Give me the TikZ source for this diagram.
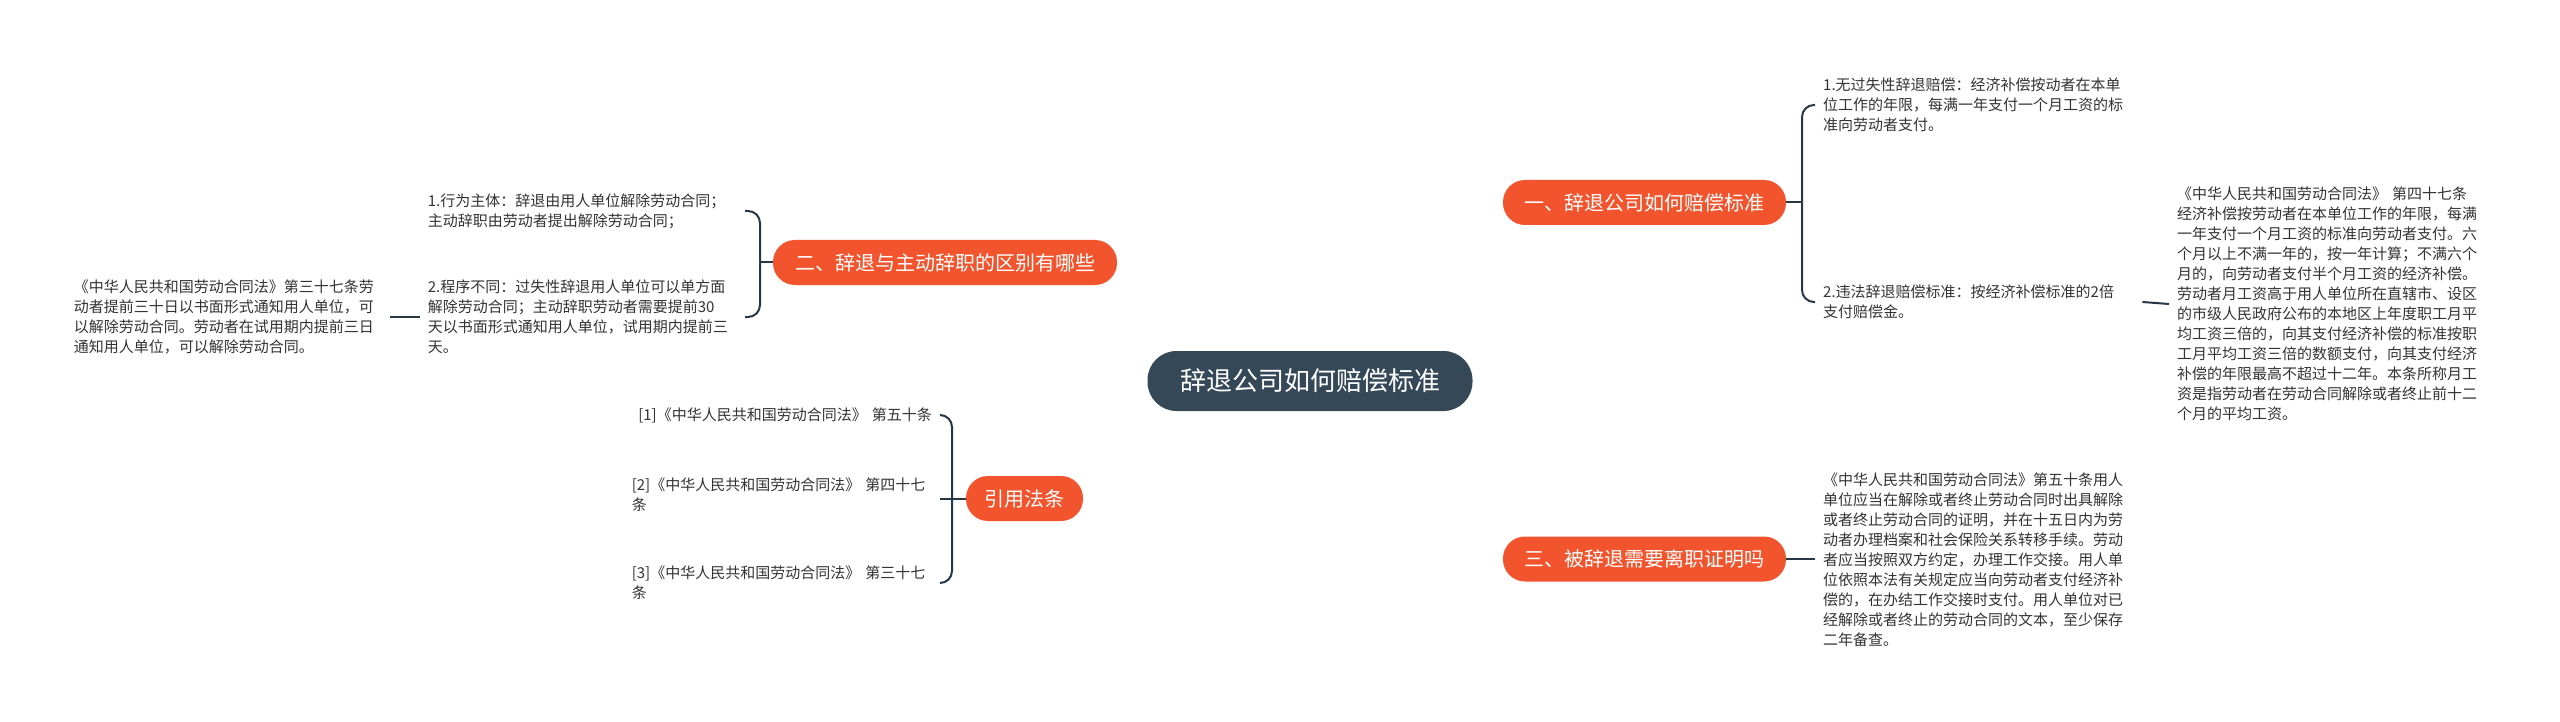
\documentclass[tikz,border=0pt]{standalone}
\usepackage{fontspec}
\setmainfont{Noto Sans CJK SC}
\usetikzlibrary{calc,backgrounds}
\definecolor{orng}{RGB}{242,84,45}
\definecolor{dark}{RGB}{53,72,88}
\definecolor{lnk}{RGB}{40,55,70}
\definecolor{txt}{RGB}{51,51,51}
\begin{document}
\begin{tikzpicture}[x=1pt,y=-1pt,
  root/.style={fill=dark,text=white,rounded corners=29pt,minimum height=60pt,minimum width=325pt,inner sep=0pt,font=\fontsize{26}{30}\selectfont},
  branch/.style={fill=orng,text=white,rounded corners=22pt,minimum height=45pt,inner sep=0pt,font=\fontsize{20}{24}\selectfont},
  leaf/.style={inner xsep=8pt,inner ysep=0pt,text=txt,align=left,font=\fontsize{15}{20}\selectfont},
  link/.style={draw=lnk,line width=2pt},
  brace/.style={link,rounded corners=12pt}]
\useasboundingbox[fill=white] (0,0) rectangle (2560,722);

% root and branches
\node[root] (ctr) at (1310,381) {辞退公司如何赔偿标准};
\node[branch,minimum width=283pt] (b1) at (1644.5,202.5) {一、辞退公司如何赔偿标准};
\node[branch,minimum width=344pt] (b2) at (945,262.5) {二、辞退与主动辞职的区别有哪些};
\node[branch,minimum width=283pt] (b3) at (1644.5,559) {三、被辞退需要离职证明吗};
\node[branch,minimum width=117pt] (b4) at (1024.5,498.5) {引用法条};

% leaves of branch 1
\node[leaf,text width=311pt,anchor=west] (l1a) at (1815,105) {1.无过失性辞退赔偿：经济补偿按动者在本单\\位工作的年限，每满一年支付一个月工资的标\\准向劳动者支付。};
\node[leaf,text width=311pt,anchor=west] (l1b) at (1815,302) {2.违法辞退赔偿标准：按经济补偿标准的2倍\\支付赔偿金。};
\node[leaf,text width=312pt,anchor=west] (l1c) at (2169,304) {《中华人民共和国劳动合同法》~第四十七条\\经济补偿按劳动者在本单位工作的年限，每满\\一年支付一个月工资的标准向劳动者支付。六\\个月以上不满一年的，按一年计算；不满六个\\月的，向劳动者支付半个月工资的经济补偿。\\劳动者月工资高于用人单位所在直辖市、设区\\的市级人民政府公布的本地区上年度职工月平\\均工资三倍的，向其支付经济补偿的标准按职\\工月平均工资三倍的数额支付，向其支付经济\\补偿的年限最高不超过十二年。本条所称月工\\资是指劳动者在劳动合同解除或者终止前十二\\个月的平均工资。};

% leaf of branch 3
\node[leaf,text width=312pt,anchor=west] (l3) at (1815,560) {《中华人民共和国劳动合同法》第五十条用人\\单位应当在解除或者终止劳动合同时出具解除\\或者终止劳动合同的证明，并在十五日内为劳\\动者办理档案和社会保险关系转移手续。劳动\\者应当按照双方约定，办理工作交接。用人单\\位依照本法有关规定应当向劳动者支付经济补\\偿的，在办结工作交接时支付。用人单位对已\\经解除或者终止的劳动合同的文本，至少保存\\二年备查。};

% leaves of branch 2
\node[leaf,text width=309pt,anchor=east] (l2a) at (745,211) {1.行为主体：辞退由用人单位解除劳动合同；\\主动辞职由劳动者提出解除劳动合同；};
\node[leaf,text width=309pt,anchor=east] (l2b) at (745,317) {2.程序不同：过失性辞退用人单位可以单方面\\解除劳动合同；主动辞职劳动者需要提前30\\天以书面形式通知用人单位，试用期内提前三\\天。};
\node[leaf,text width=308pt,anchor=east] (l2c) at (390,317) {《中华人民共和国劳动合同法》第三十七条劳\\动者提前三十日以书面形式通知用人单位，可\\以解除劳动合同。劳动者在试用期内提前三日\\通知用人单位，可以解除劳动合同。};

% leaves of branch 4
\node[leaf,text width=300pt,anchor=east,align=right] (l4a) at (940,415) {[1]《中华人民共和国劳动合同法》~第五十条};
\node[leaf,text width=300pt,anchor=east] (l4b) at (940,495) {[2]《中华人民共和国劳动合同法》~第四十七\\条};
\node[leaf,text width=300pt,anchor=east] (l4c) at (940,583) {[3]《中华人民共和国劳动合同法》~第三十七\\条};

\coordinate (j1) at (1802,202.5);
\coordinate (j2) at (760,262.5);
\coordinate (j4) at (952,498.5);

\begin{scope}[on background layer]
  \foreach \b in {b1,b3}{
    \draw[link] let \p1=(ctr.center), \p2=(\b.west) in
      (\p1) .. controls (\x1,{0.15*\y1+0.85*\y2}) and ({0.55*\x1+0.45*\x2},\y2) .. (\p2);
  }
  \foreach \b in {b2,b4}{
    \draw[link] let \p1=(ctr.center), \p2=(\b.east) in
      (\p1) .. controls (\x1,{0.15*\y1+0.85*\y2}) and ({0.55*\x1+0.45*\x2},\y2) .. (\p2);
  }
\end{scope}

% branch 1 brace
\draw[link] (b1.east) -- (j1);
\draw[brace] (j1) |- (l1a.west);
\draw[brace] (j1) |- (l1b.west);
\draw[link] (l1b.east) -- (l1c.west);
% branch 3
\draw[link] (b3.east) -- (b3.east -| l3.west);
% branch 2 brace
\draw[link] (b2.west) -- (j2);
\draw[brace] (j2) |- (l2a.east);
\draw[brace] (j2) |- (l2b.east);
\draw[link] (l2b.west) -- (l2c.east);
% branch 4 brace
\draw[link] (b4.west) -- (j4);
\draw[brace] (j4) |- (l4a.east);
\draw[link] (j4) -- (j4 -| l4b.east);
\draw[brace] (j4) |- (l4c.east);
\end{tikzpicture}
\end{document}
